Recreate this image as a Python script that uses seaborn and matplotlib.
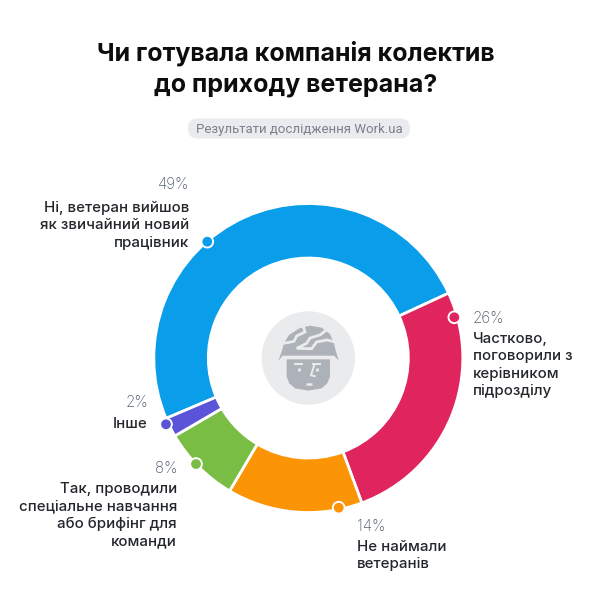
import matplotlib
matplotlib.use("Agg")
import matplotlib.pyplot as plt
import numpy as np
import seaborn as sns
from matplotlib.patches import Circle, FancyBboxPatch, Polygon

sns.set_theme(style="white")
plt.rcParams["font.family"] = ["Inter", "DejaVu Sans"]

# Survey results
answers = [
    "Ні, ветеран вийшов\nяк звичайний новий\nпрацівник",
    "Частково,\nпоговорили з\nкерівником\nпідрозділу",
    "Не наймали\nветеранів",
    "Так, проводили\nспеціальне навчання\nабо брифінг для\nкоманди",
    "Інше",
]
shares = [49, 26, 14, 8, 2]
segment_colors = ["#0a9eea", "#e0245e", "#fb9506", "#79bd44", "#5a55d8"]
title_lines = ["Чи готувала компанія колектив", "до приходу ветерана?"]
source_note = "Результати дослідження Work.ua"

W, H = 599, 600
CX, CY = 308.3, 358.0
R_OUT, R_IN = 154.5, 100.0
INK, MUTED = "#23262b", "#566272"


def flip(y):
    """Convert a top-down pixel row into the upward y axis."""
    return H - y


fig = plt.figure(figsize=(W / 100, H / 100), dpi=100, facecolor="white")
ax = fig.add_axes([0, 0, 1, 1])

palette = sns.color_palette(segment_colors)
ax.pie(
    shares,
    colors=palette,
    startangle=203,
    counterclock=False,
    center=(CX, flip(CY)),
    radius=R_OUT,
    wedgeprops=dict(width=R_OUT - R_IN, edgecolor="white", linewidth=2.0),
)
ax.set_xlim(0, W)
ax.set_ylim(0, H)
ax.set_aspect("equal")
ax.axis("off")

# Heading
for text, y in zip(title_lines, (60, 91.5)):
    ax.text(296, flip(y), text, ha="center", va="baseline", fontsize=18.0,
            fontweight="bold", color="#0d0d0f")

# Source pill
ax.add_patch(FancyBboxPatch((188, flip(138.5)), 222, 20,
                            boxstyle="round,pad=0,rounding_size=9.5",
                            facecolor="#e9ebef", edgecolor="none"))
ax.text(299, flip(133), source_note, ha="center", va="baseline", fontsize=9.5,
        family="Roboto", color="#7a818c")

# Marker dots sitting on the ring
dots = [(207.3, 241.7), (454.3, 317.3), (338.7, 507.7), (196.0, 464.0), (166.0, 424.3)]
for (x, y), c in zip(dots, palette):
    ax.add_patch(Circle((x, flip(y)), 6.8, facecolor="white", edgecolor="none", zorder=4))
    ax.add_patch(Circle((x, flip(y)), 4.9, facecolor=c, edgecolor="none", zorder=5))

# Callouts: anchor x, alignment, row of the percentage, row of the first answer line
callouts = [
    (189.5, "right", 189, 212),
    (472.7, "left", 322.7, 343),
    (356.7, "left", 531, 551),
    (177.0, "right", 473, 493),
    (148.0, "right", 406.7, 428),
]
for answer, share, (x, ha, y_pct, y_txt) in zip(answers, shares, callouts):
    ax.text(x, flip(y_pct), f"{share}%", ha=ha, va="baseline", fontsize=10.9,
            fontweight="light", color=MUTED)
    for i, line in enumerate(answer.split("\n")):
        ax.text(x, flip(y_txt + i * 17.3), line, ha=ha, va="baseline", fontsize=10.8,
                fontweight="medium", color=INK)


# Central helmeted head; outline points are in thirds of a pixel around the ring centre
def icon_xy(points):
    pts = np.asarray(points, dtype=float)
    return np.column_stack([CX + (pts[:, 0] - 505) / 3, flip(CY + (pts[:, 1] - 474) / 3)])


ICON = "#adb1b8"
DISC = "#eaebed"
ax.add_patch(Circle((CX, flip(CY)), 46.7, facecolor=DISC, edgecolor="none"))
helmet = [(415, 483), (425, 455), (433, 428), (447, 405), (478, 385), (510, 377), (545, 383),
          (570, 402), (582, 430), (588, 455), (597, 483), (583, 467), (428, 467)]
face = [(440, 478), (570, 478), (570, 530), (562, 550), (545, 565), (505, 572), (465, 565),
        (448, 550), (440, 530)]
ax.add_patch(Polygon(icon_xy(helmet), closed=True, facecolor=ICON, edgecolor="none"))
ax.add_patch(Polygon(icon_xy(face), closed=True, facecolor=ICON, edgecolor="none"))

strokes = [
    ([(432, 430), (462, 424), (470, 408), (495, 396), (490, 378)], 2.0),
    ([(470, 445), (500, 430), (510, 414), (540, 405), (562, 388)], 2.0),
    ([(470, 445), (515, 446), (530, 426), (560, 420), (584, 425)], 2.0),
    ([(462, 492), (490, 492)], 1.4),
    ([(478, 503), (478, 513)], 2.0),
    ([(515, 491), (542, 491)], 1.4),
    ([(524, 491), (513, 526), (527, 529)], 1.4),
    ([(532, 504), (532, 514)], 2.0),
    ([(497, 553), (516, 553)], 1.8),
]
for pts, lw in strokes:
    xy = icon_xy(pts)
    ax.plot(xy[:, 0], xy[:, 1], color=DISC, lw=lw, solid_capstyle="butt",
            solid_joinstyle="miter")

fig.savefig("out.png", dpi=100, facecolor="white")
